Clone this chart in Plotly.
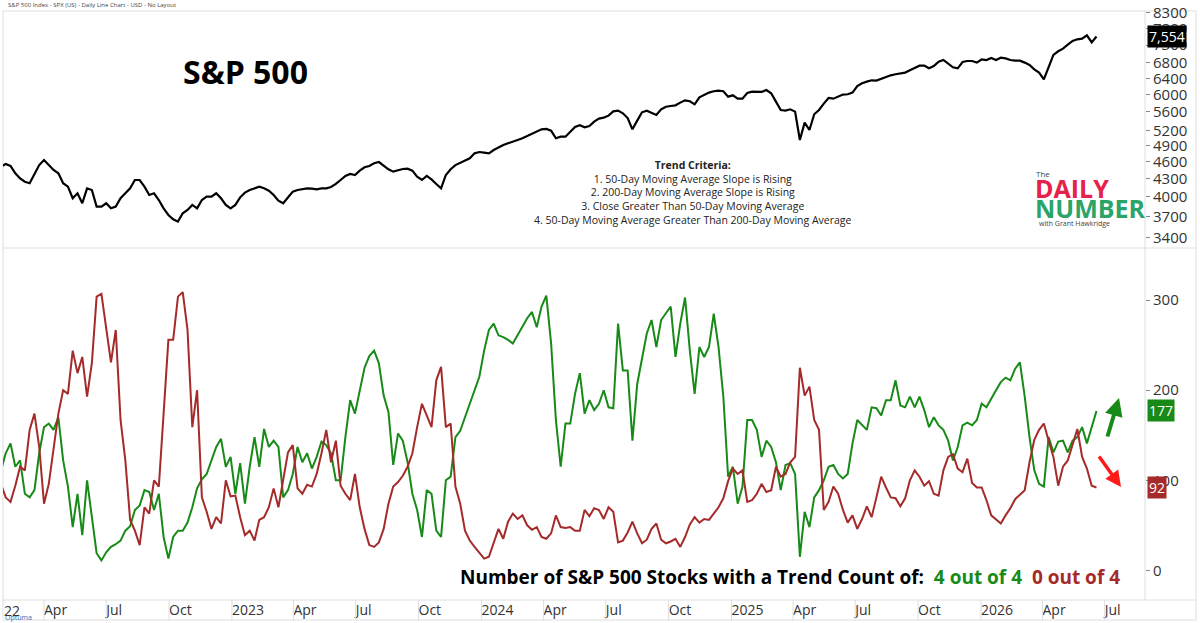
import pandas as pd
import plotly.graph_objects as go
from plotly.subplots import make_subplots

# weekly readings, first week ending 2022-01-28
start_date = "2022-01-28"

sp500 = [
    4506, 4555, 4520, 4389, 4300, 4245, 4219, 4389, 4535, 4627,
    4535, 4447, 4389, 4219, 4162, 3975, 4054, 3897, 4135, 4108,
    3845, 3845, 3897, 3820, 3845, 3975, 4054, 4135, 4274, 4274,
    4162, 4027, 4054, 3948, 3820, 3720, 3657, 3623, 3745, 3795,
    3871, 3820, 3948, 4000, 4000, 4054, 3975, 3871, 3820, 3871,
    3990, 4065, 4108, 4140, 4162, 4135, 4097, 4027, 3938, 3897,
    3990, 4081, 4108, 4124, 4135, 4130, 4119, 4135, 4135, 4157,
    4207, 4274, 4343, 4378, 4360, 4436, 4495, 4518, 4567, 4590,
    4530, 4460, 4418, 4447, 4465, 4470, 4436, 4331, 4274, 4343,
    4285, 4207, 4135, 4360, 4460, 4535, 4578, 4615, 4658, 4751,
    4776, 4763, 4751, 4814, 4865, 4910, 4944, 4984, 5010, 5043,
    5090, 5130, 5178, 5226, 5233, 5198, 5043,
    5076, 5076, 5178,
    5274, 5310, 5267, 5295, 5388, 5452, 5474, 5517, 5613, 5628,
    5569, 5466, 5226, 5410, 5591, 5628, 5577, 5532, 5658, 5717,
    5732, 5748, 5810, 5864, 5841, 5771, 5933, 5998, 6046, 6078,
    6095, 6078, 5949, 5981, 5902, 5902, 6038, 6070, 6062, 6062,
    6109, 6030, 5833, 5643, 5628, 5658, 5606, 5010, 5367, 5212,
    5547, 5643, 5787, 5917, 5902, 5949, 5998, 6006, 6046, 6206,
    6273, 6314, 6348, 6340, 6390, 6440, 6475, 6502, 6528, 6545,
    6605, 6658, 6728, 6728, 6658, 6719, 6836, 6881, 6792, 6684,
    6658, 6827, 6854, 6854, 6810, 6899, 6881, 6935, 6881, 6944,
    6926, 6881, 6863, 6863, 6810, 6747, 6632, 6545, 6373, 6701,
    7020, 7123, 7198, 7312, 7421, 7470, 7490, 7589, 7380, 7554,
]

four_of_four = [
    111, 130, 141, 115, 122, 85, 81, 89, 130, 159,
    163, 156, 170, 122, 93, 48, 85, 39, 100, 56,
    19, 11, 20, 26, 29, 33, 44, 49, 67, 72,
    89, 87, 67, 85, 37, 13, 37, 44, 44, 53,
    70, 91, 101, 107, 122, 137, 146, 115, 126, 85,
    119, 74, 115, 148, 115, 157, 137, 144, 137, 81,
    89, 107, 137, 120, 130, 113, 126, 143, 139, 130,
    100, 100, 148, 189, 174, 200, 225, 238, 244, 230,
    194, 176, 117, 152, 144, 120, 85, 67, 37, 89,
    85, 44, 37, 100, 104, 148, 155, 170, 185, 200,
    215, 244, 267, 274, 261, 259, 256, 252, 261, 270,
    280, 287, 270, 293, 305, 252, 167,
    115, 163, 163,
    196, 219, 174, 189, 178, 185, 200, 181, 180, 274,
    222, 222, 144, 207, 237, 263, 278, 248, 278, 285,
    293, 237, 274, 303, 244, 196, 248, 237, 248, 285,
    248, 193, 104, 115, 74, 93, 167, 167, 156, 126,
    144, 137, 120, 89, 117, 119, 107, 15, 65, 48,
    81, 89, 100, 115, 117, 107, 102, 107, 141, 167,
    161, 156, 181, 180, 172, 189, 189, 211, 183, 181,
    193, 181, 193, 178, 159, 170, 161, 156, 144, 122,
    137, 161, 164, 161, 167, 185, 181, 191, 200, 209,
    214, 211, 224, 231, 193, 148, 111, 96, 93, 148,
    131, 143, 144, 131, 144, 148, 159, 141, 159, 177,
]

zero_of_four = [
    96, 81, 76, 94, 115, 111, 156, 174, 137, 74,
    96, 133, 174, 200, 196, 244, 219, 237, 193, 230,
    304, 307, 267, 231, 267, 167, 122, 56, 44, 28,
    70, 63, 100, 93, 174, 256, 256, 304, 309, 267,
    159, 200, 81, 65, 46, 59, 52, 100, 82, 83,
    59, 39, 44, 33, 56, 59, 70, 91, 70, 100,
    131, 139, 91, 85, 95, 93, 107, 130, 156, 120,
    144, 94, 85, 78, 107, 70, 46, 28, 26, 31,
    46, 74, 93, 98, 105, 115, 130, 159, 185, 172,
    159, 211, 226, 159, 163, 93, 74, 44, 33, 26,
    19, 13, 15, 30, 46, 35, 54, 63, 57, 61,
    50, 45, 48, 37, 35, 41, 61,
    48, 47, 48,
    44, 44, 67, 60, 69, 67, 57, 70, 65, 31,
    33, 42, 54, 41, 30, 34, 46, 52, 34, 30,
    32, 35, 26, 37, 51, 59, 53, 57, 56, 63,
    70, 80, 99, 113, 107, 111, 76, 78, 85, 96,
    87, 89, 115, 104, 107, 120, 126, 225, 194, 204,
    167, 156, 67, 76, 93, 85, 67, 53, 61, 46,
    57, 71, 59, 81, 104, 92, 81, 80, 71, 80,
    100, 111, 104, 94, 99, 85, 83, 111, 126, 129,
    113, 109, 124, 97, 92, 92, 78, 61, 56, 52,
    61, 69, 79, 84, 89, 120, 145, 156, 163, 144,
    126, 94, 115, 122, 141, 157, 126, 113, 94, 92,
]

price_ticks = [3400, 3700, 4000, 4300, 4600, 4900, 5200, 5600, 6000, 6400, 6800, 7300, 7800, 8300]
count_ticks = [0, 100, 200, 300]
quarter_ticks = pd.date_range("2022-04-01", "2026-07-01", freq="QS")
quarter_text = [str(d.year) if d.month == 1 else d.strftime("%b") for d in quarter_ticks]

dates = pd.date_range(start_date, periods=len(sp500), freq="7D")

GREEN = "#178a17"
RED = "#a52a2a"
FONT = "Open Sans"

# pixel helpers: plot area is x 3..1145, y 11..600
def px(x):
    return (x - 3) / 1142

def py(y):
    return (600 - y) / 589

fig = make_subplots(rows=2, cols=1, shared_xaxes=True, vertical_spacing=0,
                    row_heights=[0.4024, 0.5976])

fig.add_trace(go.Scatter(x=dates, y=sp500, mode="lines",
                         line=dict(color="black", width=2.2)), row=1, col=1)
fig.add_trace(go.Scatter(x=dates, y=four_of_four, mode="lines",
                         line=dict(color=GREEN, width=2)), row=2, col=1)
fig.add_trace(go.Scatter(x=dates, y=zero_of_four, mode="lines",
                         line=dict(color=RED, width=2)), row=2, col=1)

xr = ["2022-01-31", "2026-08-29"]
fig.update_xaxes(range=xr, showgrid=False, zeroline=False, showline=False, automargin=False)
fig.update_xaxes(showticklabels=False, ticks="", row=1, col=1)
fig.update_xaxes(tickvals=quarter_ticks, ticktext=quarter_text, ticks="",
                 ticklabelposition="outside right",
                 tickfont=dict(family=FONT, size=14, color="#333"), row=2, col=1)

fig.update_yaxes(type="log", side="right", range=[3.5136, 3.9221],
                 tickvals=price_ticks, ticktext=[str(v) for v in price_ticks],
                 showgrid=False, zeroline=False, ticks="outside", ticklen=4, automargin=False,
                 tickcolor="#888", tickfont=dict(family=FONT, size=15, color="#333"),
                 row=1, col=1)
fig.update_yaxes(side="right", range=[-33, 358], tickvals=count_ticks,
                 showgrid=False, zeroline=False, ticks="outside", ticklen=4, automargin=False,
                 tickcolor="#888", tickfont=dict(family=FONT, size=15, color="#333"),
                 row=2, col=1)

line_col = "#dedede"
shapes = [
    dict(type="rect", xref="paper", yref="paper", x0=0, x1=px(1196), y0=py(620), y1=1),
    dict(type="line", xref="paper", yref="paper", x0=0, x1=px(1196), y0=py(248), y1=py(248)),
    dict(type="line", xref="paper", yref="paper", x0=0, x1=px(1196), y0=0, y1=0),
    dict(type="line", xref="paper", yref="paper", x0=1, x1=1, y0=0, y1=1),
]
for s in shapes:
    s["line"] = dict(color=line_col, width=1)
    s["layer"] = "below"
# separators in the date strip
for d in quarter_ticks:
    shapes.append(dict(type="line", xref="x2", yref="paper", x0=d, x1=d,
                       y0=0, y1=py(620), line=dict(color=line_col, width=1)))

criteria = ("<b>Trend Criteria:</b><br>"
            "1. 50-Day Moving Average Slope is Rising<br>"
            "2. 200-Day Moving Average Slope is Rising<br>"
            "3. Close Greater Than 50-Day Moving Average<br>"
            "4. 50-Day Moving Average Greater Than 200-Day Moving Average")

sp = "\u00a0\u00a0"
bottom_text = ("Number of S&P 500 Stocks with a Trend Count of:" + sp +
               f"<span style='color:{GREEN}'>4 out of 4</span>" + sp +
               f"<span style='color:{RED}'>0 out of 4</span>")

ann = [
    dict(x=px(6), y=py(5), text="S&P 500 Index - SPX (US) - Daily Line Chart - USD - No Layout",
         font=dict(family=FONT, size=6, color="#444"), xanchor="left"),
    dict(x=px(181), y=py(72), text="S&P 500",
         font=dict(family=FONT, size=32, color="black", weight="bold"), xanchor="left"),
    dict(x=px(693), y=py(156), text=criteria, align="center", xanchor="center", yanchor="top",
         font=dict(family=FONT, size=10.5, color="#222")),
    dict(x=px(1122), y=py(577), text="<b>" + bottom_text + "</b>", xanchor="right",
         font=dict(family=FONT, size=19, color="black")),
    dict(x=px(1034), y=py(173), text="The", xanchor="left",
         font=dict(family=FONT, size=8, color="#444")),
    dict(x=px(1033), y=py(188), text="<b>DAILY</b>", xanchor="left",
         font=dict(family=FONT, size=25, color="#e5224a")),
    dict(x=px(1033), y=py(208), text="<b>NUMBER</b>", xanchor="left",
         font=dict(family=FONT, size=25, color="#2aa469")),
    dict(x=px(1037), y=py(224), text="with Grant Hawkridge", xanchor="left",
         font=dict(family=FONT, size=7, color="#444")),
    dict(x=px(3), y=py(617), text="Optuma", xanchor="left",
         font=dict(family=FONT, size=7, color="#2a6db5")),
    dict(x=px(2), y=py(610), text="22", xanchor="left",
         font=dict(family=FONT, size=14, color="#333")),
]
for a in ann:
    a.update(xref="paper", yref="paper", showarrow=False)
    a.setdefault("yanchor", "middle")

# last-value boxes on the right axis
ann += [
    dict(xref="paper", yref="y", x=1, y=3.8782, text=f"{sp500[-1]:,}", xanchor="left",
         yanchor="middle", xshift=2, showarrow=False, bgcolor="black", borderpad=1,
         font=dict(family=FONT, size=14, color="white")),
    dict(xref="paper", yref="y2", x=1, y=four_of_four[-1], text=str(four_of_four[-1]),
         xanchor="left", yanchor="middle", xshift=2, showarrow=False, bgcolor=GREEN, borderpad=1,
         font=dict(family=FONT, size=14, color="white")),
    dict(xref="paper", yref="y2", x=1, y=zero_of_four[-1], text=str(zero_of_four[-1]),
         xanchor="left", yanchor="middle", xshift=2, showarrow=False, bgcolor=RED, borderpad=1,
         font=dict(family=FONT, size=14, color="white")),
]

# direction arrows
ann += [
    dict(xref="paper", yref="paper", x=px(1119), y=py(398), ax=-12, ay=40, text="",
         showarrow=True, arrowhead=2, arrowsize=0.9, arrowwidth=4, arrowcolor=GREEN),
    dict(xref="paper", yref="paper", x=px(1121), y=py(487), ax=-23, ay=-32, text="",
         showarrow=True, arrowhead=2, arrowsize=0.9, arrowwidth=3.5, arrowcolor="#ff1a1a"),
]

fig.update_layout(
    width=1200, height=623,
    margin=dict(l=3, r=55, t=11, b=23),
    plot_bgcolor="white", paper_bgcolor="white",
    showlegend=False,
    shapes=shapes, annotations=ann,
    font=dict(family=FONT),
)
fig.update_yaxes(domain=[0.5976, 1], row=1, col=1)
fig.update_yaxes(domain=[0, 0.5976], row=2, col=1)

# the page body has a default margin; drop it so the figure sits at the window corner
fig.write_html("out.html", config={"displayModeBar": False},
               post_script="document.body.style.margin='0px';")
